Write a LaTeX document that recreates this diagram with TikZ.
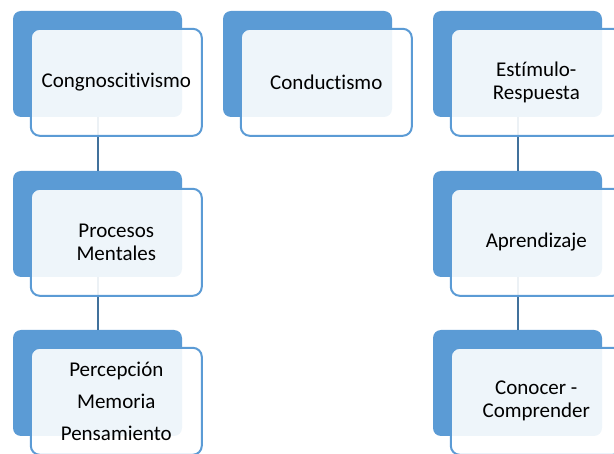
\documentclass[tikz,border=0pt]{standalone}
\usepackage{fontspec}
\setmainfont{Carlito}[Ligatures=NoCommon]
\usepackage{tikz}
\usetikzlibrary{positioning}

\definecolor{smartblue}{HTML}{5B9BD5}
\definecolor{linkblue}{HTML}{41719C}

\tikzset{
    backbox/.style={rectangle, rounded corners=8pt, fill=smartblue, minimum width=169pt, minimum height=106pt, inner sep=0pt},
    frontbox/.style={rectangle, rounded corners=9pt, draw=smartblue, line width=2pt, fill=white, fill opacity=0.9, text opacity=1,
        minimum width=171pt, minimum height=107pt, inner sep=0pt, align=center, text=black, font=\fontsize{21}{23}\selectfont},
    link/.style={draw=linkblue, line width=2pt}
}

\begin{document}
\begin{tikzpicture}[x=1pt, y=-1pt]
        \clip (0,0) rectangle (614,454);

        % back boxes
        \node[backbox] (cogB) at (97.5,64) {};
        \node[backbox] (procB) at (97.5,224) {};
        \node[backbox] (percB) at (97.5,383) {};
        \node[backbox] (condB) at (307.5,64) {};
        \node[backbox] (estB) at (517.5,64) {};
        \node[backbox] (aprB) at (517.5,224) {};
        \node[backbox] (conB) at (517.5,383) {};

        % connectors
        \path[link] (cogB) -- (procB)
                    (procB) -- (percB)
                    (estB) -- (aprB)
                    (aprB) -- (conB);

        % front boxes
        \node[frontbox, below right=17pt and 17pt of cogB.north west] (cog) {Congnoscitivismo};
        \node[frontbox, below right=17pt and 17pt of procB.north west] (proc) {Procesos\\Mentales};
        \node[frontbox, below right=17pt and 17pt of percB.north west] (perc) {Percepción\\[9pt]Memoria\\[9pt]Pensamiento};
        \node[frontbox, below right=17pt and 17pt of condB.north west] (cond) {Conductismo};
        \node[frontbox, below right=17pt and 17pt of estB.north west] (est) {Estímulo-\\Respuesta};
        \node[frontbox, below right=17pt and 17pt of aprB.north west] (apr) {Aprendizaje};
        \node[frontbox, below right=17pt and 17pt of conB.north west] (con) {Conocer -\\Comprender};
\end{tikzpicture}
\end{document}
